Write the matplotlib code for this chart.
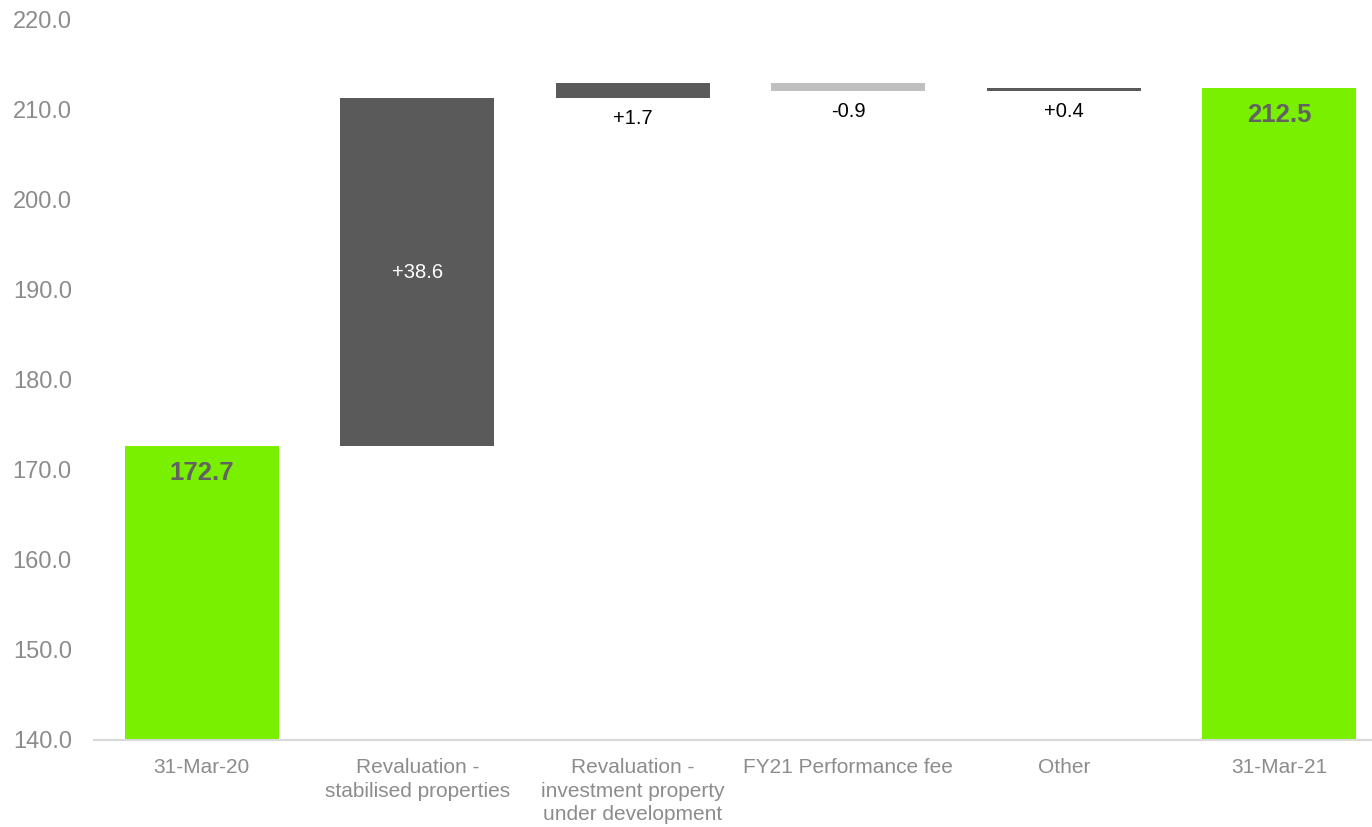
import matplotlib.pyplot as plt
import numpy as np

plt.rcParams["font.family"] = ["Liberation Sans", "DejaVu Sans"]

# NAV bridge, 31-Mar-20 to 31-Mar-21
categories = [
    "31-Mar-20",
    "Revaluation -\nstabilised properties",
    "Revaluation -\ninvestment property\nunder development",
    "FY21 Performance fee",
    "Other",
    "31-Mar-21",
]
start_total = 172.7
changes = [38.6, 1.7, -0.9, 0.4]
end_total = 212.5
change_labels = ["+38.6", "+1.7", "-0.9", "+0.4"]

GREEN = "#78F000"
DARK = "#5A5A5A"
LIGHT = "#BFBFBF"
TICK_GREY = "#8C8C8C"
BASE = 140.0

fig = plt.figure(figsize=(13.72, 8.27), dpi=100)
ax = fig.add_axes([94 / 1372, 1 - 740 / 827, (1372 - 94) / 1372, 720 / 827])

x = np.arange(len(categories))
width = 0.714

# totals
ax.bar(x[0], start_total - BASE, bottom=BASE, width=width, color=GREEN)
ax.bar(x[-1], end_total - BASE, bottom=BASE, width=width, color=GREEN)
for xi, val in [(x[0], start_total), (x[-1], end_total)]:
    ax.annotate(f"{val:.1f}", (xi, val), xytext=(0, -20), textcoords="offset points",
                ha="center", va="center", fontsize=18.5, fontweight="bold", color="#626262")

# floating changes
level = start_total
for i, (chg, lab) in enumerate(zip(changes, change_labels)):
    xi = x[i + 1]
    lo, hi = min(level, level + chg), max(level, level + chg)
    color = LIGHT if chg < 0 else DARK
    ax.bar(xi, hi - lo, bottom=lo, width=width, color=color)
    if hi - lo > 10:
        ax.text(xi, (lo + hi) / 2, lab, ha="center", va="center", fontsize=14.5, color="white")
    else:
        ax.annotate(lab, (xi, lo), xytext=(0, -8), textcoords="offset points",
                    ha="center", va="top", fontsize=14.5, color="black")
    level += chg

ax.set_xlim(-0.5, 5.43)
ax.set_ylim(BASE, 220)
ax.set_yticks(np.arange(140, 221, 10))
ax.set_yticklabels([f"{v:.1f}" for v in np.arange(140, 221, 10)])
ax.set_xticks(x)
ax.set_xticklabels(categories, linespacing=1.3)
ax.tick_params(axis="y", length=0, pad=16, labelsize=17, labelcolor=TICK_GREY)
ax.tick_params(axis="x", length=0, pad=13, labelsize=15, labelcolor=TICK_GREY)

for side in ["top", "right", "left"]:
    ax.spines[side].set_visible(False)
ax.spines["bottom"].set_color("#D9D9D9")
ax.spines["bottom"].set_linewidth(1.5)
ax.spines["bottom"].set_zorder(3)

fig.savefig("out.png", dpi=100)
